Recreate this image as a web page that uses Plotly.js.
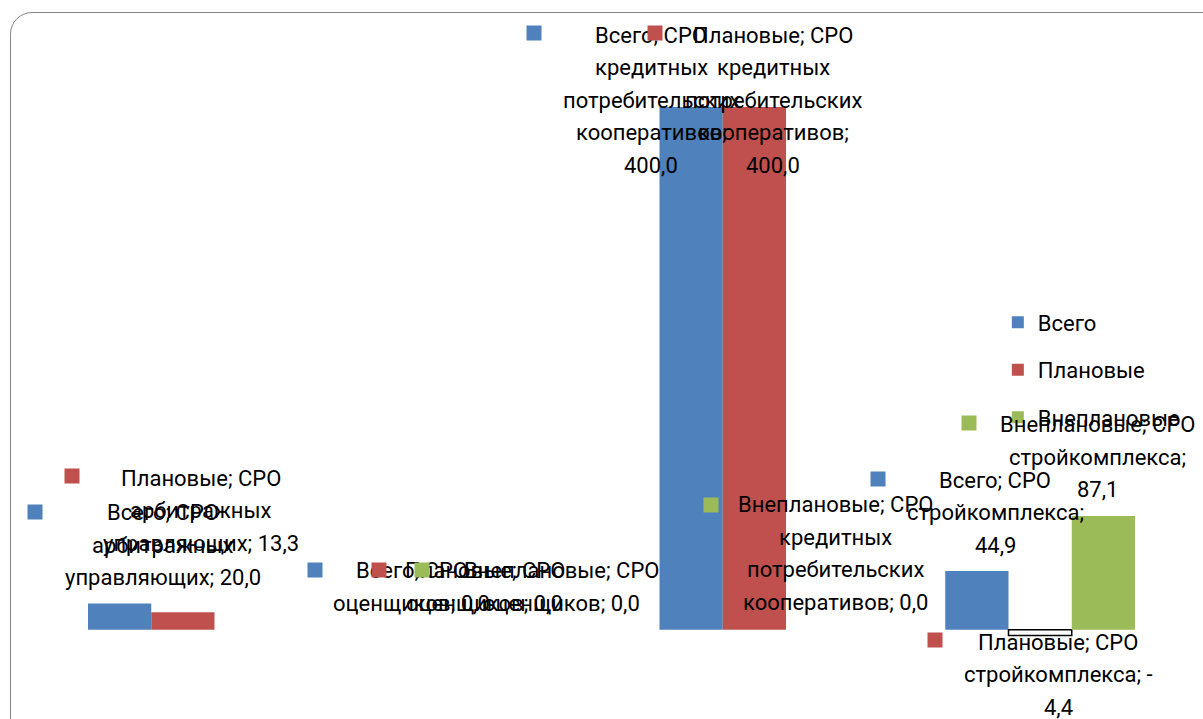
<!DOCTYPE html>
<html><head><meta charset="utf-8">
<script src="https://cdn.plot.ly/plotly-3.0.1.min.js"></script>
<style>
html,body{margin:0;padding:0;background:#fff;overflow:hidden}
#wrap{position:relative;width:1203px;height:719px}
#chart{position:absolute;left:0;top:0;width:1203px;height:719px}
#frame{position:absolute;left:10px;top:12px;width:1240px;height:760px;border:1.5px solid #868686;border-radius:22px;pointer-events:none;box-sizing:border-box}
</style></head>
<body><div id="wrap"><div id="chart"></div><div id="frame"></div></div>
<script>
const categories = ["СРО арбитражных управляющих","СРО оценщиков","СРО кредитных потребительских кооперативов","СРО стройкомплекса"];
const seriesNames = ["Всего","Плановые","Внеплановые"];
const vsego = [20.0, 0.0, 400.0, 44.9];
const planovye = [13.3, 0.0, 400.0, -4.4];
const vneplanovye = [null, 0.0, 0.0, 87.1];
const seriesValues = [vsego, planovye, vneplanovye];
const seriesColors = ["#4F81BD","#C0504D","#9BBB59"];

const FONT = "Roboto";
const FS = 22;
const LINE = 32.5;
const WRAP = 201;

// label placement offsets (px) relative to the point (category centre, value)
const labelPos = [
  [{dx:-20,up:91,kdx:-148,kup:92},{dx:-57,up:59,kdx:-154,kup:60},{dx:-103,up:72,kdx:-220,kup:74},{dx:-45,up:91,kdx:-162,kup:92}],
  [{dx:18,up:134,kdx:-111,kup:136},{dx:16,up:59,kdx:-90,kup:60},{dx:19,up:72,kdx:-99,kup:74},{dx:18,up:-7,kdx:-105,kup:-5}],
  [null,{dx:93,up:59,kdx:-47,kup:60},{dx:81,up:125,kdx:-43,kup:125},{dx:57,up:91,kdx:-71,kup:93}]
];

const cv = document.createElement('canvas').getContext('2d');
cv.font = FS + "px " + FONT;
function fmt(v){ return v.toFixed(1).replace('.', ','); }
function wrapText(s){
  // tokens: break after spaces and after a leading minus sign
  const parts = [];
  s.split(' ').forEach((w,i,arr)=>{
    if (w.length>1 && w[0]==='-') { parts.push({t:'-',sep:''}); parts.push({t:w.slice(1),sep:i<arr.length-1?' ':''}); }
    else parts.push({t:w,sep:i<arr.length-1?' ':''});
  });
  const lines=[]; let cur='';
  parts.forEach(p=>{
    const cand = cur + p.t;
    if (cur && cv.measureText(cand).width > WRAP) { lines.push(cur.trim()); cur = p.t + p.sep; }
    else cur = cand + p.sep;
  });
  if (cur.trim()) lines.push(cur.trim());
  return lines;
}

const traces = seriesNames.map((n,si)=>{
  const vals = seriesValues[si];
  return {
    type:'bar', name:n, x:categories, y:vals, legendgroup:'g'+si,
    marker:{
      color: vals.map(v=> v!==null && v<0 ? '#FFFFFF' : seriesColors[si]),
      line:{color: vals.map(v=> v!==null && v<0 ? '#000000' : seriesColors[si]), width: vals.map(v=> v!==null && v<0 ? 1.5 : 0)}
    },
    hoverinfo:'skip'
  };
});

const annotations = [];
seriesNames.forEach((n,si)=>{
  seriesValues[si].forEach((v,ci)=>{
    const pos = labelPos[si][ci];
    if (v===null || !pos) return;
    const lines = wrapText(n + "; " + categories[ci] + "; " + fmt(v));
    lines.forEach((ln,li)=>{
      annotations.push({x:categories[ci], y:v, xref:'x', yref:'y', text:ln, showarrow:false,
        xanchor:'center', yanchor:'middle', xshift:pos.dx, yshift:pos.up - li*LINE,
        font:{family:FONT, size:FS, color:'#000'}});
    });
    annotations.push({x:categories[ci], y:v, xref:'x', yref:'y', text:' ', showarrow:false,
      width:14, height:14, bgcolor:seriesColors[si], borderpad:0,
      xanchor:'center', yanchor:'middle', xshift:pos.kdx, yshift:pos.kup, font:{size:4}});
  });
});

const layout = {
  width:1203, height:719,
  margin:{l:40, r:20, t:107, b:36.7},
  paper_bgcolor:'rgba(0,0,0,0)', plot_bgcolor:'rgba(0,0,0,0)',
  barmode:'group', bargap:0.336, bargroupgap:0,
  showlegend:true,
  legend:{x:0.838, y:0.662, xanchor:'left', yanchor:'top', traceorder:'grouped', tracegroupgap:16,
    font:{family:FONT, size:FS, color:'#000'}, bgcolor:'rgba(0,0,0,0)'},
  xaxis:{type:'category', range:[-0.5,3.5], showticklabels:false, showgrid:false, zeroline:false, showline:false, ticks:''},
  yaxis:{range:[-40,400], showticklabels:false, showgrid:false, zeroline:false, showline:false, ticks:''},
  annotations:annotations
};
Plotly.newPlot('chart', traces, layout, {staticPlot:true, displayModeBar:false});
</script>
</body></html>
